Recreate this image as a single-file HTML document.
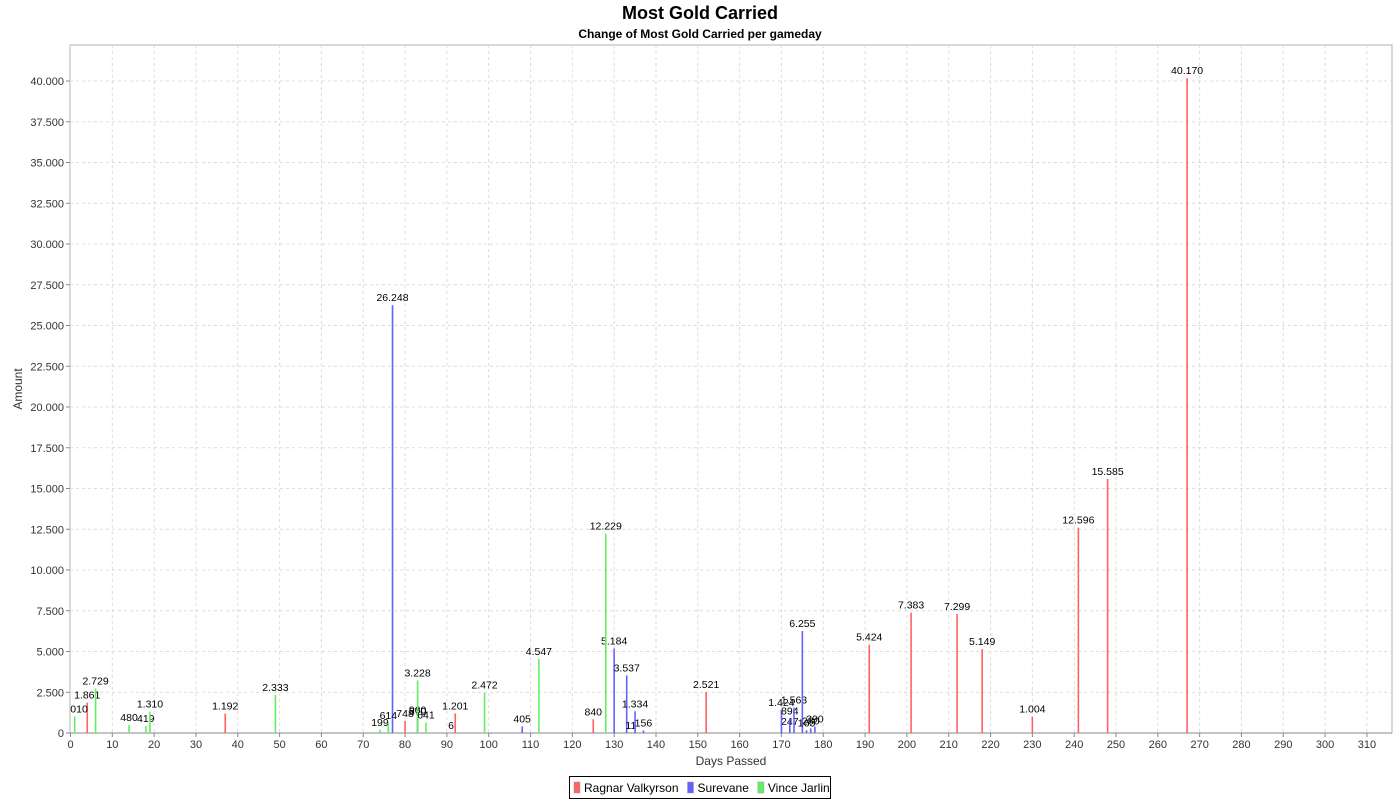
<!DOCTYPE html>
<html><head><meta charset="utf-8"><style>
body{margin:0;background:#fff;width:1400px;height:800px;overflow:hidden;font-family:"Liberation Sans",sans-serif}
svg text{font-family:"Liberation Sans",sans-serif}
</style></head><body>
<svg id="c" width="1400" height="800"></svg>
<script>
const ragnarDays=[4,37,80,83,91,92,125,152,172,191,201,212,218,230,241,248,267];
const ragnarVals=[1861,1192,748,870,6,1201,840,2521,247,5424,7383,7299,5149,1004,12596,15585,40170];
const surevaneDays=[77,83,108,130,133,134,135,137,170,172,173,175,176,177,178];
const surevaneVals=[26248,960,405,5184,3537,11,1334,156,1424,894,1563,6255,165,280,390];
const vinceDays=[1,6,14,18,19,49,74,76,83,85,99,112,128];
const vinceVals=[1010,2729,480,419,1310,2333,199,614,3228,641,2472,4547,12229];
const xTicks=[0,10,20,30,40,50,60,70,80,90,100,110,120,130,140,150,160,170,180,190,200,210,220,230,240,250,260,270,280,290,300,310];
const yTicks=[0,2500,5000,7500,10000,12500,15000,17500,20000,22500,25000,27500,30000,32500,35000,37500,40000];
const series=[["Ragnar Valkyrson",ragnarDays,ragnarVals,"#ff6262"],["Surevane",surevaneDays,surevaneVals,"#6262ff"],["Vince Jarlin",vinceDays,vinceVals,"#62f062"]];
const L=70,R=1392,T=45,B=733;
const X=d=>70.5+d*4.182, Y=v=>733-v*0.0163;
const fmt=v=>v.toLocaleString('de-DE');
const svg=document.getElementById('c');const NS='http://www.w3.org/2000/svg';
function el(t,a,txt,p){const e=document.createElementNS(NS,t);for(const k in a)e.setAttribute(k,a[k]);if(txt!=null)e.textContent=txt;(p||svg).appendChild(e);return e;}
let e;
const defs=el('defs',{});const cp=el('clipPath',{id:'pc'},null,defs);el('rect',{x:L,y:T,width:R-L,height:B-T},null,cp);
e=el('text',{x:700,y:19,'text-anchor':'middle','font-size':18,'font-weight':'bold'},'Most Gold Carried');

e=el('text',{x:700,y:38,'text-anchor':'middle','font-size':12,'font-weight':'bold'},'Change of Most Gold Carried per gameday');

e=el('rect',{x:L,y:T,width:R-L,height:B-T,fill:'#fff',stroke:'#b0b0b0'});

yTicks.forEach(v=>{const y=Y(v);
 e=el('line',{x1:L,x2:R,y1:y,y2:y,stroke:'#dcdcdc','stroke-dasharray':'3,3'});
 
 el('line',{x1:L-4,x2:L,y1:y,y2:y,stroke:'#888'});
 e=el('text',{x:L-6,y:y+4,'text-anchor':'end','font-size':11,fill:'#333'},fmt(v));
 });
xTicks.forEach(d=>{const x=X(d);
 e=el('line',{x1:x,x2:x,y1:T,y2:B,stroke:'#dcdcdc','stroke-dasharray':'3,3'});
 
 el('line',{x1:x,x2:x,y1:B,y2:B+4,stroke:'#888'});
 e=el('text',{x:x,y:B+15,'text-anchor':'middle','font-size':11,fill:'#333'},d);
 });
el('line',{x1:L,x2:R,y1:B,y2:B,stroke:'#888'});
e=el('text',{x:731,y:765,'text-anchor':'middle','font-size':12,fill:'#333'},'Days Passed');

e=el('text',{x:0,y:0,'text-anchor':'middle','font-size':12,fill:'#333',transform:'translate(22,389) rotate(-90)'},'Amount');

const g=el('g',{'clip-path':'url(#pc)'});
series.forEach(([n,ds,vs,c])=>{ds.forEach((d,i)=>{
 const x=X(d),y=Y(vs[i]);
 e=el('rect',{x:x-0.8,y:y,width:1.6,height:B-y,fill:c},null,g);
 
 
 e=el('text',{x:x,y:y-4,'text-anchor':'middle','font-size':10.5,fill:'#000'},fmt(vs[i]),g);
 });});
e=el('rect',{x:569.5,y:776.5,width:261,height:22,fill:'#fff',stroke:'#000'});

let lx=574;
series.forEach(([n,,,c])=>{
 e=el('rect',{x:lx,y:782,width:6,height:11,fill:c,stroke:'#999','stroke-width':0.5});
 
 const t=el('text',{x:lx+10,y:792,'font-size':12,fill:'#000'},n);
 
 lx+=10+t.getComputedTextLength()+9;});
</script>
</body></html>
